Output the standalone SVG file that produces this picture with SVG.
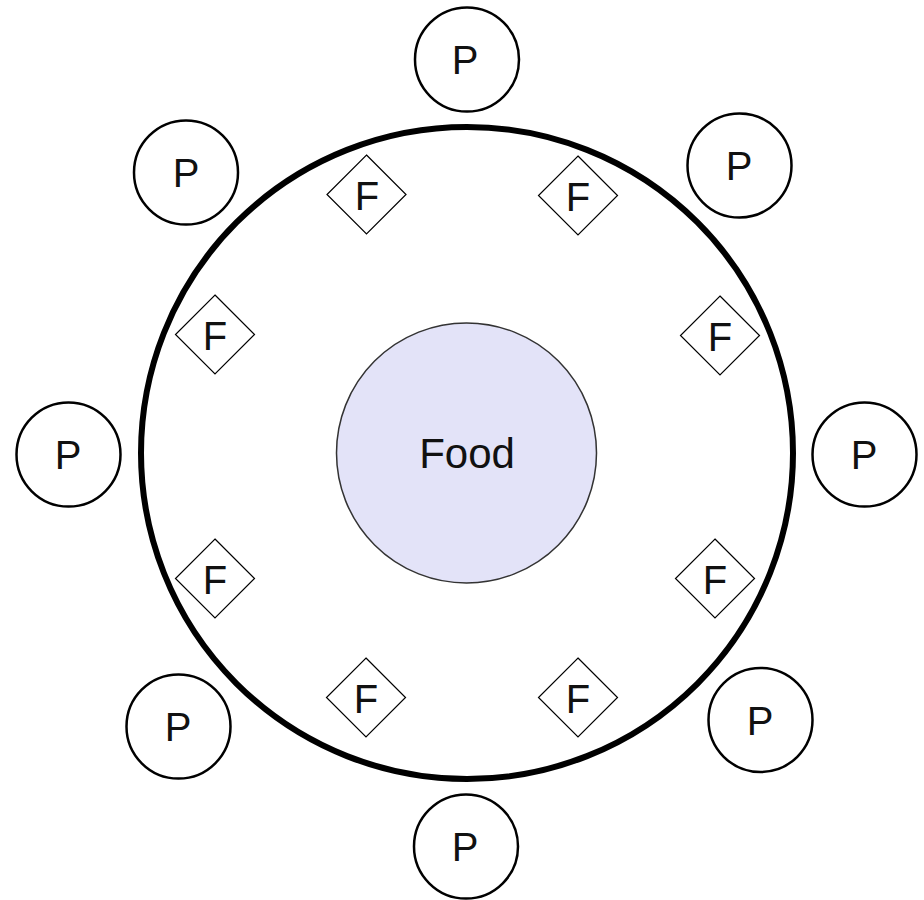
<svg xmlns="http://www.w3.org/2000/svg" width="924" height="900" viewBox="0 0 924 900">
<style>
.p{fill:#fff;stroke:#000;stroke-width:2.5}
.f{fill:#fff;stroke:#000;stroke-width:1.2}
.t{font-family:"Liberation Sans",Arial,sans-serif;font-size:40px;fill:#111;text-anchor:middle}
</style>
<rect width="924" height="900" fill="#fff"/>
<g id="table"><circle cx="467" cy="453" r="326" fill="#fff" stroke="#000" stroke-width="6"/></g>
<g id="food"><circle cx="466.5" cy="453" r="130" fill="#e3e3f8" stroke="#333" stroke-width="1.5"/><text class="t" x="467" y="468" style="font-size:42px">Food</text></g>
<g id="p1"><circle class="p" cx="467" cy="59.5" r="52"/><text class="t" x="465" y="74">P</text></g>
<g id="p2"><circle class="p" cx="739.5" cy="165.5" r="52"/><text class="t" x="739" y="180">P</text></g>
<g id="p3"><circle class="p" cx="864.5" cy="454.5" r="52"/><text class="t" x="864" y="469">P</text></g>
<g id="p4"><circle class="p" cx="760.5" cy="720" r="52"/><text class="t" x="760" y="735">P</text></g>
<g id="p5"><circle class="p" cx="466" cy="846.5" r="52"/><text class="t" x="465" y="861">P</text></g>
<g id="p6"><circle class="p" cx="178.5" cy="726.5" r="52"/><text class="t" x="178" y="741">P</text></g>
<g id="p7"><circle class="p" cx="68.5" cy="454.5" r="52"/><text class="t" x="68" y="469">P</text></g>
<g id="p8"><circle class="p" cx="186" cy="172.5" r="52"/><text class="t" x="186" y="187">P</text></g>
<g id="f1"><path class="f" d="M366.5 155L406 194.5 366.5 234 327 194.5Z"/><text class="t" x="367" y="210">F</text></g>
<g id="f2"><path class="f" d="M578 156L617.5 195.5 578 235 538.5 195.5Z"/><text class="t" x="578" y="211">F</text></g>
<g id="f3"><path class="f" d="M720 296L759.5 335.5 720 375 680.5 335.5Z"/><text class="t" x="720" y="351">F</text></g>
<g id="f4"><path class="f" d="M715 539L754.5 578.5 715 618 675.5 578.5Z"/><text class="t" x="715" y="594">F</text></g>
<g id="f5"><path class="f" d="M578 658L617.5 697.5 578 737 538.5 697.5Z"/><text class="t" x="578" y="713">F</text></g>
<g id="f6"><path class="f" d="M366 658L405.5 697.5 366 737 326.5 697.5Z"/><text class="t" x="366" y="713">F</text></g>
<g id="f7"><path class="f" d="M215 539L254.5 578.5 215 618 175.5 578.5Z"/><text class="t" x="215" y="594">F</text></g>
<g id="f8"><path class="f" d="M215 295L254.5 334.5 215 374 175.5 334.5Z"/><text class="t" x="215" y="350">F</text></g>
<g id="connectors"/>
</svg>
